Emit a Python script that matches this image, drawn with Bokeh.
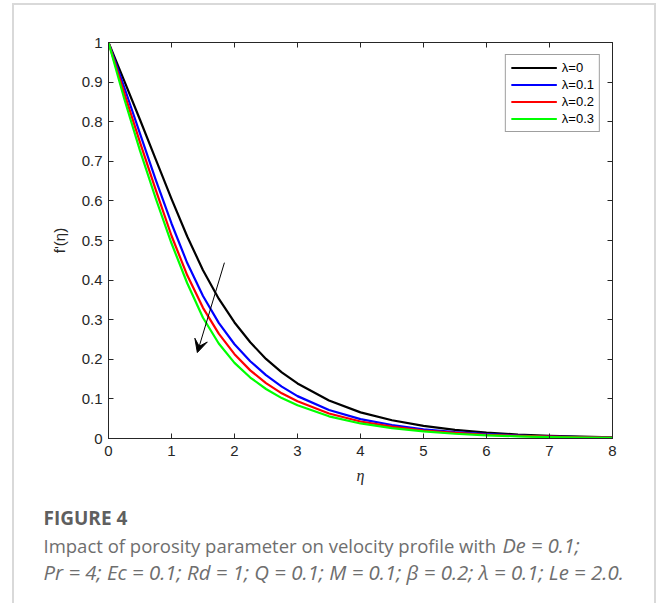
from bokeh.plotting import figure
from bokeh.layouts import column
from bokeh.models import (Range1d, LinearAxis, Legend, LegendItem, Arrow,
                          VeeHead, FixedTicker, CustomJSTickFormatter)
from bokeh.core.properties import value
from bokeh.embed import file_html
from bokeh.resources import INLINE

# ---------------- data ----------------
eta = [0, 0.25, 0.5, 0.75, 1.0, 1.25, 1.5, 1.75, 2.0, 2.25, 2.5, 2.75, 3.0,
       3.5, 4.0, 4.5, 5.0, 5.5, 6.0, 6.5, 7.0, 7.5, 8.0]
f_lam0 = [1, 0.903, 0.805, 0.705, 0.605, 0.510, 0.425, 0.353, 0.293, 0.243, 0.201,
          0.167, 0.139, 0.096, 0.066, 0.046, 0.032, 0.022, 0.015, 0.010, 0.007, 0.0045, 0.003]
f_lam1 = [1, 0.887, 0.770, 0.653, 0.543, 0.443, 0.360, 0.292, 0.238, 0.195, 0.160,
          0.131, 0.107, 0.072, 0.049, 0.034, 0.023, 0.016, 0.011, 0.0075, 0.005, 0.0035, 0.0025]
f_lam2 = [1, 0.872, 0.748, 0.628, 0.512, 0.412, 0.330, 0.265, 0.213, 0.172, 0.140,
          0.114, 0.094, 0.063, 0.043, 0.030, 0.020, 0.014, 0.0095, 0.0065, 0.0045, 0.003, 0.002]
f_lam3 = [1, 0.858, 0.727, 0.606, 0.493, 0.392, 0.305, 0.240, 0.191, 0.154, 0.125,
          0.102, 0.084, 0.056, 0.038, 0.026, 0.018, 0.012, 0.008, 0.0055, 0.0037, 0.0025, 0.0017]
series = [f_lam0, f_lam1, f_lam2, f_lam3]
series_labels = ["λ=0", "λ=0.1", "λ=0.2", "λ=0.3"]
series_colors = ["#000000", "#0000ff", "#ff0000", "#00ff00"]

x_ticks = [0, 1, 2, 3, 4, 5, 6, 7, 8]
y_ticks = [0, 0.1, 0.2, 0.3, 0.4, 0.5, 0.6, 0.7, 0.8, 0.9, 1.0]
y_tick_labels = ["0", "0.1", "0.2", "0.3", "0.4", "0.5", "0.6", "0.7", "0.8", "0.9", "1"]

arrow_start = (1.84, 0.444)
arrow_end = (1.41, 0.217)

caption_title = "FIGURE 4"
caption_line1a = "Impact of porosity parameter on velocity profile with"
caption_line1b = "De = 0.1;"
caption_line2 = "Pr = 4; Ec = 0.1; Rd = 1; Q = 0.1; M = 0.1; β = 0.2; λ = 0.1; Le = 2.0."

# ---------------- layout (page pixels) ----------------
OX, OY = 14, 5            # content origin inside the grey card border
CW = 640                  # content width
CHART_H = 485             # chart height (page y 5..490)
CAP_H = 120               # caption height
FL, FR, FT, FB = 108, 612, 42, 438  # plot frame in page pixels

p = figure(width=CW, height=CHART_H, x_range=Range1d(0, 8), y_range=Range1d(0, 1),
           output_backend="svg", toolbar_location=None,
           min_border_left=FL - OX, min_border_right=CW - (FR - OX),
           min_border_top=FT - OY, min_border_bottom=CHART_H - (FB - OY))
p.frame_align = False
p.background_fill_color = "white"
p.border_fill_color = "white"
p.outline_line_color = "#262626"
p.xgrid.visible = False
p.ygrid.visible = False

axis_color = "#262626"
for ax in (p.xaxis[0], p.yaxis[0]):
    ax.axis_line_color = axis_color
    ax.major_tick_line_color = axis_color
    ax.major_tick_in = 5
    ax.major_tick_out = 0
    ax.minor_tick_line_color = None
    ax.major_label_text_font = "Liberation Sans"
    ax.major_label_text_font_size = "15px"
    ax.major_label_text_color = axis_color

p.xaxis.ticker = FixedTicker(ticks=x_ticks)
p.yaxis.ticker = FixedTicker(ticks=y_ticks)
p.yaxis.major_label_overrides = {t: s for t, s in zip(y_ticks, y_tick_labels)}
p.xaxis.major_label_standoff = 7
p.yaxis.major_label_standoff = 6

p.xaxis.axis_label = "η"
p.xaxis.axis_label_text_font = "Liberation Serif"
p.xaxis.axis_label_text_font_style = "italic"
p.xaxis.axis_label_text_font_size = "16px"
p.xaxis.axis_label_text_color = axis_color
p.xaxis.axis_label_standoff = 8

p.yaxis.axis_label = "f'(η)"
p.yaxis.axis_label_text_font = "Liberation Sans"
p.yaxis.axis_label_text_font_style = "normal"
p.yaxis.axis_label_text_font_size = "15px"
p.yaxis.axis_label_text_color = axis_color
p.yaxis.axis_label_standoff = 11

blank = CustomJSTickFormatter(code="return ''")
top_ax = LinearAxis(ticker=FixedTicker(ticks=x_ticks), formatter=blank,
                    major_tick_in=5, major_tick_out=0, minor_tick_line_color=None,
                    axis_line_color=axis_color, major_tick_line_color=axis_color)
right_ax = LinearAxis(ticker=FixedTicker(ticks=y_ticks), formatter=blank,
                      major_tick_in=5, major_tick_out=0, minor_tick_line_color=None,
                      axis_line_color=axis_color, major_tick_line_color=axis_color)
p.add_layout(top_ax, "above")
p.add_layout(right_ax, "right")

# ---------------- curves ----------------
items = []
for ys, lab, col in zip(series, series_labels, series_colors):
    r = p.line(eta, ys, line_color=col, line_width=2.2, line_join="round")
    items.append(LegendItem(label=lab, renderers=[r]))

legend = Legend(items=items, location="top_right", margin=12, padding=5, spacing=2,
                label_height=15, glyph_height=15, glyph_width=46, label_standoff=5,
                label_text_font="Liberation Sans", label_text_font_size="13px",
                label_text_color="#000000", border_line_color="#404040",
                border_line_width=1, background_fill_color="white", background_fill_alpha=1)
p.add_layout(legend)

p.add_layout(Arrow(end=VeeHead(size=13, fill_color="black", line_color="black", line_width=1),
                   x_start=arrow_start[0], y_start=arrow_start[1],
                   x_end=arrow_end[0], y_end=arrow_end[1],
                   line_color="black", line_width=1))

# ---------------- caption panel ----------------
c = figure(width=CW, height=CAP_H, x_range=Range1d(0, CW), y_range=Range1d(CAP_H, 0),
           output_backend="svg", toolbar_location=None,
           min_border=0, min_border_left=0, min_border_right=0,
           min_border_top=0, min_border_bottom=0)
c.frame_align = False
c.axis.visible = False
c.grid.visible = False
c.outline_line_color = None
c.background_fill_color = "white"
c.border_fill_color = "white"

CAP_Y0 = OY + CHART_H  # page y of caption top
cap_color = "#6e6e6e"
c.text(x=[43 - OX], y=[517 - CAP_Y0], text=[caption_title], text_font=value("Open Sans"),
       text_font_style="bold", text_font_size="19px", text_color="#5f5f5f",
       text_baseline="alphabetic", text_align="left")
c.text(x=[43 - OX], y=[545 - CAP_Y0], text=[caption_line1a], text_font=value("Open Sans"),
       text_font_size="18.5px", text_color=cap_color,
       text_baseline="alphabetic", text_align="left")
c.text(x=[502 - OX], y=[545 - CAP_Y0], text=[caption_line1b], text_font=value("Open Sans"),
       text_font_style="italic", text_font_size="20px", text_color=cap_color,
       text_baseline="alphabetic", text_align="left")
c.text(x=[43 - OX], y=[571 - CAP_Y0], text=[caption_line2], text_font=value("Open Sans"),
       text_font_style="italic", text_font_size="20.4px", text_color=cap_color,
       text_baseline="alphabetic", text_align="left")

page = column(p, c, spacing=0,
              styles={"margin-left": "12px", "margin-top": "3px",
                      "border-left": "2px solid #d9d9d9",
                      "border-right": "2px solid #d9d9d9",
                      "border-top": "2px solid #d9d9d9"})

with open("out.html", "w", encoding="utf-8") as fh:
    fh.write(file_html(page, INLINE))
